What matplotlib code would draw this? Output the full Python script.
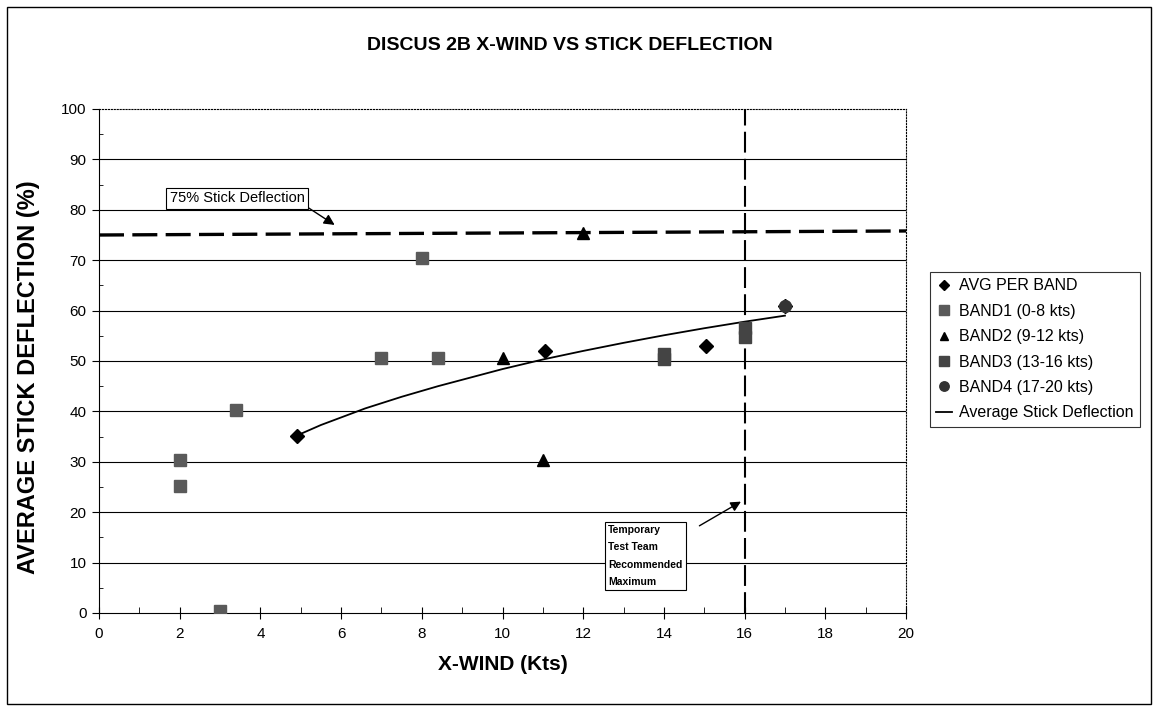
import numpy as np
import matplotlib
matplotlib.use('Agg')
import matplotlib.pyplot as plt
from matplotlib.patches import Rectangle
from matplotlib.ticker import MultipleLocator

plt.rcParams['font.family'] = ['Liberation Sans', 'DejaVu Sans']

# data
avg_x = [4.9, 11.05, 15.05, 17.0]
avg_y = [35.2, 52.0, 53.0, 61.0]
band1_x = [2, 2, 3, 3.4, 7, 8, 8.4]
band1_y = [30.3, 25.2, 0.3, 40.2, 50.5, 70.4, 50.5]
band2_x = [10, 11, 12]
band2_y = [50.5, 30.3, 75.4]
band3_x = [14, 14, 16, 16]
band3_y = [50.3, 51.3, 54.8, 56.6]
band4_x = [17]
band4_y = [61.0]
# trend line
trend_x = [4.9, 5.5, 6.6, 7.5, 8.4, 10, 11, 12, 13, 14, 15, 16, 17]
trend_y = [35.2, 37.3, 40.6, 42.9, 45.0, 48.4, 50.3, 52.0, 53.6, 55.1, 56.5, 57.8, 59.0]
# 75% stick deflection reference line
limit_x = [0, 20]
limit_y = [75.0, 75.8]
max_wind = 16

fig = plt.figure(figsize=(11.56, 7.11), dpi=100)
ax = fig.add_axes([99/1156, 1 - 613/711, (906-99)/1156, (613-109)/711])

ax.set_xlim(0, 20)
ax.set_ylim(0, 100)
ax.xaxis.set_major_locator(MultipleLocator(2))
ax.xaxis.set_minor_locator(MultipleLocator(1))
ax.yaxis.set_major_locator(MultipleLocator(10))
ax.yaxis.set_minor_locator(MultipleLocator(5))

for yy in range(10, 100, 10):
    ax.axhline(yy, color='black', lw=0.8, zorder=1)

ax.spines['top'].set_linestyle(':')
ax.spines['right'].set_linestyle(':')
ax.spines['top'].set_linewidth(0.8)
ax.spines['right'].set_linewidth(0.8)

ax.tick_params(axis='y', which='major', direction='out', length=5, labelsize=11, pad=4)
ax.tick_params(axis='y', which='minor', direction='in', length=3)
ax.tick_params(axis='x', which='major', direction='inout', length=8, labelsize=11, pad=6)
ax.tick_params(axis='x', which='minor', direction='in', length=4)

# reference lines
ax.plot(limit_x, limit_y, color='black', lw=2.4, dashes=(7.5, 2.5), zorder=2)
ax.plot([max_wind, max_wind], [0, 100], color='black', lw=1.5, dashes=(10, 3), zorder=2)

# series
ax.plot(avg_x, avg_y, 'D', color='black', ms=7, zorder=4, label='AVG PER BAND')
ax.plot(band1_x, band1_y, 's', color='#5a5a5a', ms=8.5, zorder=4, label='BAND1 (0-8 kts)')
ax.plot(band2_x, band2_y, '^', color='black', ms=8, zorder=4, label='BAND2 (9-12 kts)')
ax.plot(band3_x, band3_y, 's', color='#444444', ms=8.5, zorder=4, label='BAND3 (13-16 kts)')
ax.plot(band4_x, band4_y, 'o', color='#333333', ms=8.5, zorder=5, label='BAND4 (17-20 kts)')
ax.plot(trend_x, trend_y, '-', color='black', lw=1.3, zorder=3, label='Average Stick Deflection')

# annotations
ax.annotate('75% Stick Deflection', xy=(5.84, 77), xytext=(3.42, 82.3),
            ha='center', va='center', fontsize=10.5,
            bbox=dict(boxstyle='square,pad=0.25', fc='white', ec='black', lw=0.8),
            arrowprops=dict(arrowstyle='-|>,head_length=0.6,head_width=0.3', color='black',
                            lw=1, relpos=(1, 0), shrinkA=0, shrinkB=0),
            zorder=6)
ax.text(12.62, 11.3, 'Temporary\nTest Team\nRecommended\nMaximum', ha='left', va='center',
        fontsize=7.5, fontweight='bold', linespacing=1.9,
        bbox=dict(boxstyle='square,pad=0.3', fc='white', ec='black', lw=0.8), zorder=6)
ax.annotate('', xy=(15.91, 22.1), xytext=(14.88, 17.3),
            arrowprops=dict(arrowstyle='-|>,head_length=0.6,head_width=0.3', color='black',
                            lw=1, shrinkA=0, shrinkB=0))

ax.set_xlabel('X-WIND (Kts)', fontsize=15, fontweight='bold', labelpad=10)
ax.set_ylabel('AVERAGE STICK DEFLECTION (%)', fontsize=17, fontweight='bold')
ax.yaxis.set_label_coords(-0.073, 0.468)

fig.text(0.493, 1 - 45/711, 'DISCUS 2B X-WIND VS STICK DEFLECTION', ha='center', va='center',
         fontsize=14, fontweight='bold')

leg = fig.legend(loc='upper left', bbox_to_anchor=(930/1156, 1 - 272/711), borderaxespad=0,
                 fontsize=11.5, frameon=True, fancybox=False, handlelength=1.0, handletextpad=0.4,
                 labelspacing=0.65, borderpad=0.4, markerscale=0.8)
leg.get_frame().set_edgecolor('black')
leg.get_frame().set_linewidth(0.8)

# outer chart border
fig.patches.append(Rectangle((7/1156, 7/711), (1151-7)/1156, (704-7)/711, transform=fig.transFigure,
                             fill=False, ec='black', lw=1.0))

fig.savefig('out.png', dpi=100)
